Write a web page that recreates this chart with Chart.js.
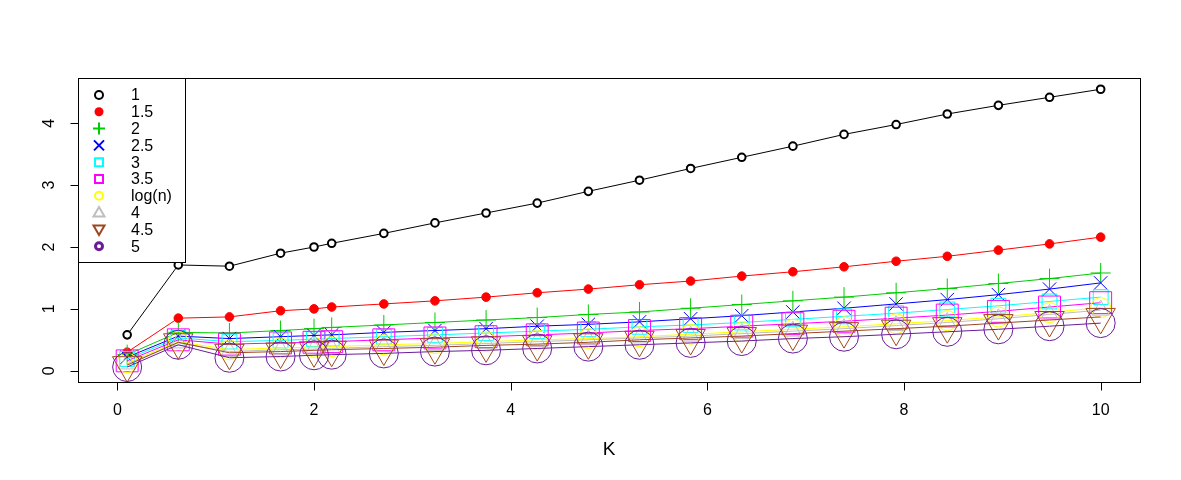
<!DOCTYPE html>
<html>
<head>
<meta charset="utf-8">
<script src="https://cdn.jsdelivr.net/npm/chart.js@4"></script>
<style>
  html, body { margin: 0; padding: 0; background: #fff; }
  #wrap { width: 1181px; height: 480px; }
</style>
</head>
<body>
<div id="wrap"><canvas id="chart" width="1181" height="480"></canvas></div>
<script>
// x positions (K)
const kValues = [0.1, 0.62, 1.14, 1.66, 2.0, 2.18, 2.71, 3.23, 3.75, 4.27, 4.79, 5.31, 5.83, 6.35, 6.87, 7.39, 7.92, 8.44, 8.96, 9.48, 10];

// one array per legend entry
const s1    = [0.58, 1.71, 1.69, 1.90, 2.00, 2.06, 2.22, 2.39, 2.55, 2.71, 2.90, 3.08, 3.27, 3.45, 3.63, 3.82, 3.98, 4.15, 4.29, 4.42, 4.55];
const s1_5  = [0.30, 0.85, 0.87, 0.97, 1.00, 1.03, 1.08, 1.13, 1.19, 1.26, 1.32, 1.39, 1.45, 1.53, 1.60, 1.68, 1.77, 1.85, 1.95, 2.05, 2.16];
const s2    = [0.26, 0.62, 0.61, 0.65, 0.68, 0.70, 0.74, 0.78, 0.82, 0.86, 0.91, 0.95, 1.01, 1.07, 1.13, 1.19, 1.26, 1.33, 1.41, 1.49, 1.58];
const s2_5  = [0.22, 0.56, 0.52, 0.55, 0.57, 0.58, 0.62, 0.65, 0.68, 0.72, 0.75, 0.79, 0.84, 0.89, 0.95, 1.01, 1.08, 1.15, 1.23, 1.32, 1.42];
const s3    = [0.19, 0.53, 0.47, 0.49, 0.51, 0.52, 0.55, 0.58, 0.61, 0.64, 0.67, 0.71, 0.74, 0.78, 0.83, 0.88, 0.93, 0.99, 1.05, 1.12, 1.19];
const s3_5  = [0.16, 0.50, 0.43, 0.45, 0.46, 0.47, 0.50, 0.53, 0.55, 0.58, 0.61, 0.65, 0.68, 0.72, 0.76, 0.80, 0.85, 0.90, 0.96, 1.03, 1.10];
const sLogN = [0.13, 0.47, 0.34, 0.37, 0.38, 0.39, 0.42, 0.44, 0.47, 0.50, 0.52, 0.55, 0.59, 0.63, 0.67, 0.71, 0.76, 0.81, 0.87, 0.94, 1.02];
const s4    = [0.11, 0.45, 0.31, 0.34, 0.35, 0.36, 0.39, 0.41, 0.44, 0.47, 0.50, 0.53, 0.56, 0.60, 0.64, 0.68, 0.73, 0.78, 0.84, 0.91, 0.98];
const s4_5  = [0.09, 0.46, 0.29, 0.31, 0.33, 0.34, 0.36, 0.38, 0.41, 0.43, 0.46, 0.50, 0.53, 0.56, 0.60, 0.64, 0.68, 0.72, 0.77, 0.82, 0.87];
const s5    = [0.06, 0.42, 0.21, 0.23, 0.25, 0.26, 0.28, 0.31, 0.33, 0.36, 0.39, 0.42, 0.45, 0.48, 0.52, 0.55, 0.59, 0.63, 0.67, 0.72, 0.77];

const seriesLabels = ['1', '1.5', '2', '2.5', '3', '3.5', 'log(n)', '4', '4.5', '5'];
const seriesValues = [s1, s1_5, s2, s2_5, s3, s3_5, sLogN, s4, s4_5, s5];

const xTicks = [0, 2, 4, 6, 8, 10];
const yTicks = [0, 1, 2, 3, 4];

// look of each series: colour, marker, marker size in plot
const styles = [
    { color: '#000000', point: 'circle',   radius: 3.8, bw: 2,   fill: '#ffffff' },
    { color: '#ff0000', point: 'circle',   radius: 4.3, bw: 1,   fill: '#ff0000' },
    { color: '#00cd00', point: 'cross',    radius: 10,  bw: 1,   fill: 'transparent' },
    { color: '#0000ff', point: 'crossRot', radius: 9.5, bw: 1,   fill: 'transparent' },
    { color: '#00ffff', point: 'rect',     radius: 10.5, bw: 1,  fill: 'transparent' },
    { color: '#ff00ff', point: 'rect',     radius: 15.5, bw: 1,  fill: 'transparent' },
    { color: '#ffff00', point: 'circle',   radius: 10,  bw: 1,   fill: 'transparent' },
    { color: '#bebebe', point: 'triangle', radius: 10,  bw: 1,   fill: 'transparent' },
    { color: '#a0461e', point: 'triangle', radius: 17,  bw: 1,   fill: 'transparent', rot: 180 },
    { color: '#6a1b9a', point: 'circle',   radius: 14.5, bw: 1,  fill: 'transparent' }
];

const FONT = '"Liberation Sans", Arial, Helvetica, sans-serif';

const datasets = seriesValues.map((vals, i) => ({
    label: seriesLabels[i],
    data: kValues.map((k, j) => ({ x: k, y: vals[j] })),
    borderColor: styles[i].color,
    borderWidth: 1,
    tension: 0,
    fill: false,
    pointStyle: styles[i].point,
    pointRadius: styles[i].radius,
    pointRotation: styles[i].rot || 0,
    pointBorderWidth: styles[i].bw,
    pointBorderColor: styles[i].color,
    pointBackgroundColor: styles[i].fill,
    pointHoverRadius: styles[i].radius,
    order: seriesValues.length - i
}));

// small legend symbols, R style
function drawSymbol(ctx, i, x, y) {
    const st = styles[i];
    ctx.save();
    ctx.strokeStyle = st.color;
    ctx.fillStyle = st.color;
    ctx.lineWidth = 2;
    ctx.beginPath();
    if (i === 0 || i === 6) {
        ctx.arc(x, y, 4, 0, Math.PI * 2);
        ctx.stroke();
    } else if (i === 1) {
        ctx.arc(x, y, 4.5, 0, Math.PI * 2);
        ctx.fill();
    } else if (i === 2) {
        ctx.moveTo(x - 6, y); ctx.lineTo(x + 6, y);
        ctx.moveTo(x, y - 6); ctx.lineTo(x, y + 6);
        ctx.stroke();
    } else if (i === 3) {
        ctx.moveTo(x - 5, y - 5); ctx.lineTo(x + 5, y + 5);
        ctx.moveTo(x - 5, y + 5); ctx.lineTo(x + 5, y - 5);
        ctx.stroke();
    } else if (i === 4 || i === 5) {
        ctx.rect(x - 4, y - 4, 8, 8);
        ctx.stroke();
    } else if (i === 7) {
        ctx.moveTo(x, y - 5.5); ctx.lineTo(x + 5.5, y + 4); ctx.lineTo(x - 5.5, y + 4); ctx.closePath();
        ctx.stroke();
    } else if (i === 8) {
        ctx.moveTo(x, y + 5.5); ctx.lineTo(x + 5.5, y - 4); ctx.lineTo(x - 5.5, y - 4); ctx.closePath();
        ctx.stroke();
    } else if (i === 9) {
        ctx.lineWidth = 3;
        ctx.arc(x, y, 3.5, 0, Math.PI * 2);
        ctx.stroke();
    }
    ctx.restore();
}

const rPlot = {
    id: 'rPlot',
    afterDraw(chart) {
        const ctx = chart.ctx;
        const area = chart.chartArea;
        const xs = chart.scales.x;
        const ys = chart.scales.y;
        ctx.save();
        ctx.strokeStyle = '#000';
        ctx.fillStyle = '#000';
        ctx.lineWidth = 1;

        // box
        ctx.strokeRect(Math.round(area.left) + 0.5, Math.round(area.top) + 0.5,
            Math.round(area.right - area.left), Math.round(area.bottom - area.top));

        // x axis
        const yb = Math.round(area.bottom) + 0.5;
        ctx.beginPath();
        ctx.moveTo(xs.getPixelForValue(xTicks[0]), yb);
        ctx.lineTo(xs.getPixelForValue(xTicks[xTicks.length - 1]), yb);
        xTicks.forEach(t => {
            const px = Math.round(xs.getPixelForValue(t)) + 0.5;
            ctx.moveTo(px, yb);
            ctx.lineTo(px, yb + 8);
        });
        ctx.stroke();
        ctx.font = '16px ' + FONT;
        ctx.textAlign = 'center';
        ctx.textBaseline = 'middle';
        xTicks.forEach(t => ctx.fillText(String(t), xs.getPixelForValue(t), area.bottom + 29));

        // y axis
        const xl = Math.round(area.left) + 0.5;
        ctx.beginPath();
        ctx.moveTo(xl, ys.getPixelForValue(yTicks[0]));
        ctx.lineTo(xl, ys.getPixelForValue(yTicks[yTicks.length - 1]));
        yTicks.forEach(t => {
            const py = Math.round(ys.getPixelForValue(t)) + 0.5;
            ctx.moveTo(xl, py);
            ctx.lineTo(xl - 8, py);
        });
        ctx.stroke();
        yTicks.forEach(t => {
            ctx.save();
            ctx.translate(area.left - 28, ys.getPixelForValue(t));
            ctx.rotate(-Math.PI / 2);
            ctx.fillText(String(t), 0, 0);
            ctx.restore();
        });

        // axis title
        ctx.font = '19px ' + FONT;
        ctx.fillText('K', (area.left + area.right) / 2, area.bottom + 68);

        // legend
        const lx = Math.round(area.left) + 0.5;
        const ly = Math.round(area.top) + 0.5;
        const lw = 107, lh = 184;
        ctx.fillStyle = '#fff';
        ctx.fillRect(lx, ly, lw, lh);
        ctx.strokeRect(lx, ly, lw, lh);
        ctx.fillStyle = '#000';
        ctx.font = '16px ' + FONT;
        ctx.textAlign = 'left';
        seriesLabels.forEach((lab, i) => {
            const cy = area.top + 17 + i * 16.8;
            drawSymbol(ctx, i, area.left + 21, cy);
            ctx.fillStyle = '#000';
            ctx.fillText(lab, area.left + 53, cy + 1);
        });
        ctx.restore();
    }
};

new Chart(document.getElementById('chart'), {
    type: 'line',
    data: { datasets },
    options: {
        responsive: false,
        animation: false,
        devicePixelRatio: 1,
        layout: { padding: { left: 78, top: 78, right: 41, bottom: 98 } },
        plugins: { legend: { display: false }, tooltip: { enabled: false } },
        events: [],
        scales: {
            x: { type: 'linear', min: -0.4, max: 10.4, display: false },
            y: { type: 'linear', min: -0.182, max: 4.732, display: false }
        }
    },
    plugins: [rPlot]
});
</script>
</body>
</html>
